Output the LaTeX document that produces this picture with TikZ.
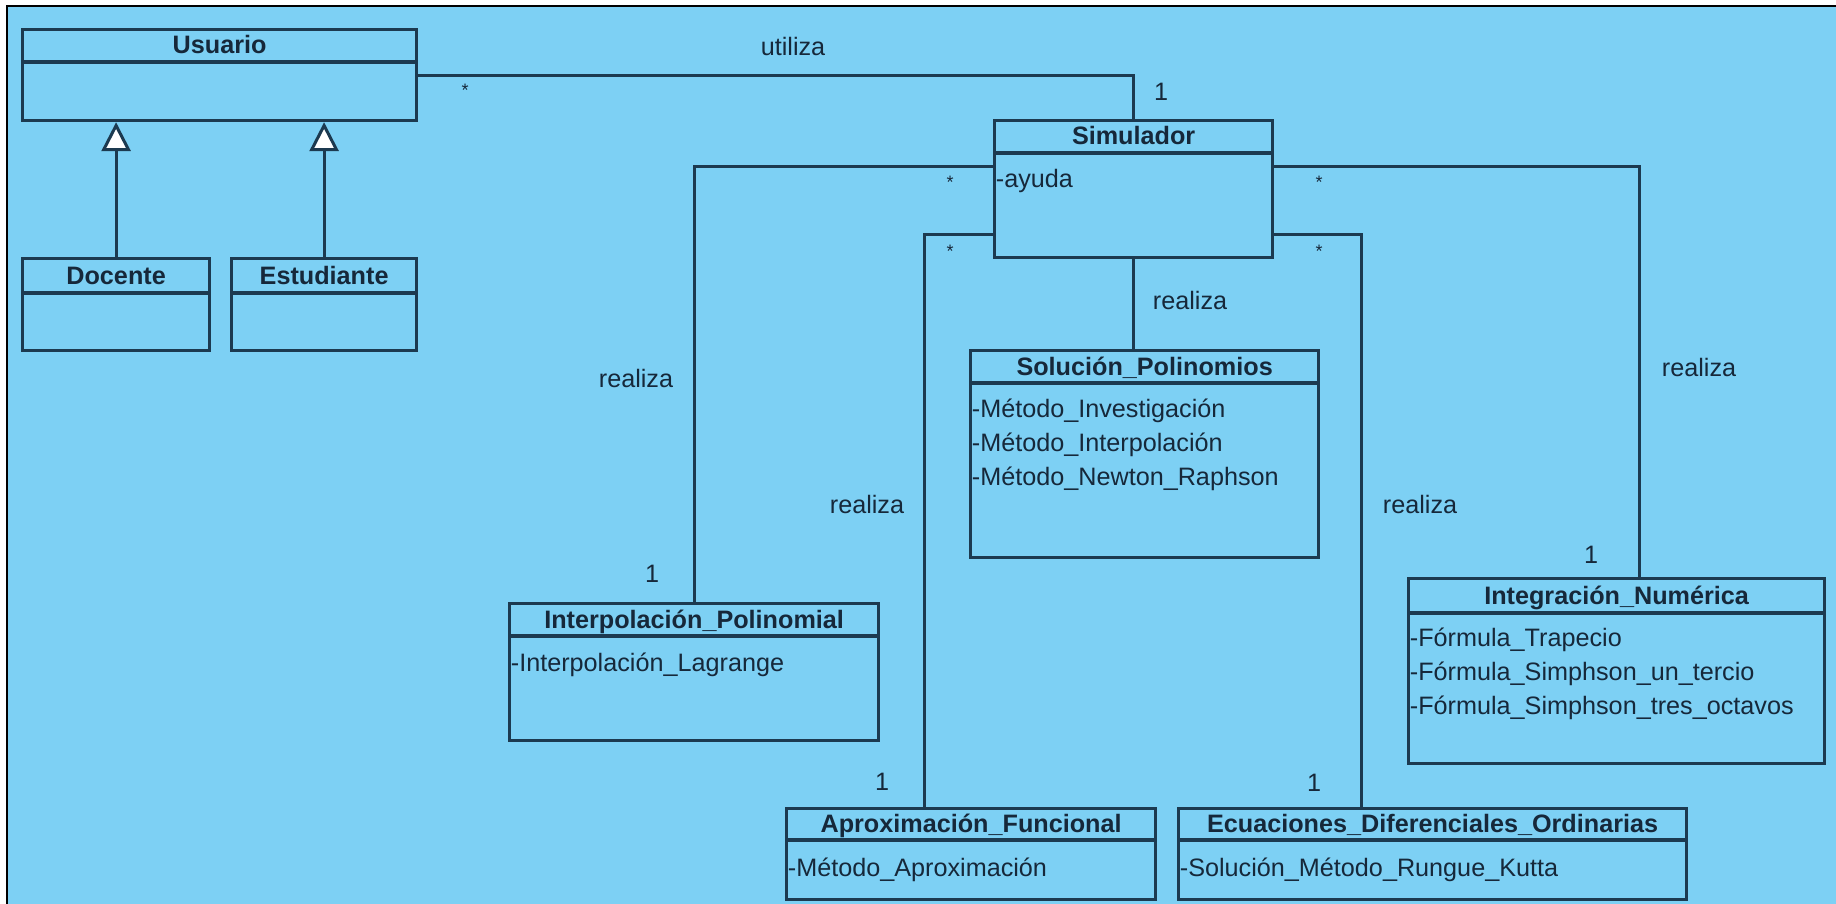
\documentclass[tikz,border=0pt]{standalone}
\usepackage{fontspec}
\setmainfont{Liberation Sans}
\usetikzlibrary{arrows.meta}

\definecolor{fondo}{RGB}{125,208,244}
\definecolor{linea}{RGB}{28,58,80}
\definecolor{texto}{RGB}{22,40,58}

\tikzset{
  clase/.style={draw=linea, line width=1.6pt, inner sep=0pt, anchor=north west},
  divisor/.style={draw=linea, line width=1.6pt},
  titulo/.style={anchor=base, inner sep=0.75pt, text=texto, font=\fontsize{12.6}{15}\selectfont\bfseries},
  atributo/.style={anchor=base west, inner sep=0.75pt, text=texto, font=\fontsize{12.6}{15}\selectfont},
  etiqueta/.style={anchor=base, inner sep=0.75pt, text=texto, font=\fontsize{12.6}{15}\selectfont},
  multiplicidad/.style={anchor=base, inner sep=0.75pt, text=texto, font=\fontsize{9}{10}\selectfont},
  asociacion/.style={draw=linea, line width=1.5pt},
  herencia/.style={asociacion, -{Triangle[fill=white, length=14.5pt, width=14.5pt]}}
}

\begin{document}
\begin{tikzpicture}[x=0.5pt,y=0.5pt,yscale=-1,xscale=1]
\useasboundingbox (0,0) rectangle (1836,904);

%Background and frame
\fill[white] (0,0) rectangle (1836,904);
\fill[fondo] (8,7) rectangle (1836,904);
\draw[black, line width=1.2pt] (7,904) -- (7,6) -- (1836,6);

% (yshift runs downwards here, since yscale=-1)

%Shape: Usuario
\node[clase, minimum width=197pt, minimum height=45.5pt] (usuario) at (21,28) {};
\draw[divisor] ([yshift=17pt]usuario.north west) -- ([yshift=17pt]usuario.north east);
\node[titulo] (usuario-t) at ([yshift=13pt]usuario.north) {Usuario};

%Shape: Docente
\node[clase, minimum width=93.5pt, minimum height=46pt] (docente) at (21,257) {};
\draw[divisor] ([yshift=18pt]docente.north west) -- ([yshift=18pt]docente.north east);
\node[titulo] (docente-t) at ([yshift=13.5pt]docente.north) {Docente};

%Shape: Estudiante
\node[clase, minimum width=92.5pt, minimum height=46pt] (estudiante) at (230,257) {};
\draw[divisor] ([yshift=18pt]estudiante.north west) -- ([yshift=18pt]estudiante.north east);
\node[titulo] (estudiante-t) at ([yshift=13.5pt]estudiante.north) {Estudiante};

%Shape: Simulador
\node[clase, minimum width=139pt, minimum height=68.5pt] (simulador) at (993,119) {};
\draw[divisor] ([yshift=17pt]simulador.north west) -- ([yshift=17pt]simulador.north east);
\node[titulo] (simulador-t) at ([yshift=13pt]simulador.north) {Simulador};
\node[atributo] (simulador-a1) at ([xshift=0.5pt,yshift=34pt]simulador.north west) {-ayuda};

%Shape: Solucion_Polinomios
\node[clase, minimum width=174pt, minimum height=103.5pt] (solucion) at (969,349) {};
\draw[divisor] ([yshift=17pt]solucion.north west) -- ([yshift=17pt]solucion.north east);
\node[titulo] (solucion-t) at ([yshift=13pt]solucion.north) {Solución\_Polinomios};
\node[atributo] (solucion-a1) at ([xshift=0.5pt,yshift=34pt]solucion.north west) {-Método\_Investigación};
\node[atributo] (solucion-a2) at ([xshift=0.5pt,yshift=51pt]solucion.north west) {-Método\_Interpolación};
\node[atributo] (solucion-a3) at ([xshift=0.5pt,yshift=68pt]solucion.north west) {-Método\_Newton\_Raphson};

%Shape: Interpolacion_Polinomial
\node[clase, minimum width=184.5pt, minimum height=68.5pt] (interpolacion) at (508,602) {};
\draw[divisor] ([yshift=17pt]interpolacion.north west) -- ([yshift=17pt]interpolacion.north east);
\node[titulo] (interpolacion-t) at ([yshift=13pt]interpolacion.north) {Interpolación\_Polinomial};
\node[atributo] (interpolacion-a1) at ([xshift=0.5pt,yshift=34.5pt]interpolacion.north west) {-Interpolación\_Lagrange};

%Shape: Integracion_Numerica
\node[clase, minimum width=208pt, minimum height=92.5pt] (integracion) at (1407,577) {};
\draw[divisor] ([yshift=18pt]integracion.north west) -- ([yshift=18pt]integracion.north east);
\node[titulo] (integracion-t) at ([yshift=13.5pt]integracion.north) {Integración\_Numérica};
\node[atributo] (integracion-a1) at ([xshift=0.5pt,yshift=34.5pt]integracion.north west) {-Fórmula\_Trapecio};
\node[atributo] (integracion-a2) at ([xshift=0.5pt,yshift=51.5pt]integracion.north west) {-Fórmula\_Simphson\_un\_tercio};
\node[atributo] (integracion-a3) at ([xshift=0.5pt,yshift=68.5pt]integracion.north west) {-Fórmula\_Simphson\_tres\_octavos};

%Shape: Aproximacion_Funcional
\node[clase, minimum width=184.5pt, minimum height=45.5pt] (aproximacion) at (785,807) {};
\draw[divisor] ([yshift=16.5pt]aproximacion.north west) -- ([yshift=16.5pt]aproximacion.north east);
\node[titulo] (aproximacion-t) at ([yshift=12.5pt]aproximacion.north) {Aproximación\_Funcional};
\node[atributo] (aproximacion-a1) at ([xshift=0.5pt,yshift=34.5pt]aproximacion.north west) {-Método\_Aproximación};

%Shape: Ecuaciones_Diferenciales_Ordinarias
\node[clase, minimum width=254pt, minimum height=45.5pt] (ecuaciones) at (1177,807) {};
\draw[divisor] ([yshift=16.5pt]ecuaciones.north west) -- ([yshift=16.5pt]ecuaciones.north east);
\node[titulo] (ecuaciones-t) at ([yshift=12.5pt]ecuaciones.north) {Ecuaciones\_Diferenciales\_Ordinarias};
\node[atributo] (ecuaciones-a1) at ([xshift=0.5pt,yshift=34.5pt]ecuaciones.north west) {-Solución\_Método\_Rungue\_Kutta};

%Generalization
\draw[herencia] (docente.north) -- (docente.north |- usuario.south);
\draw[herencia] (estudiante.north) -- (estudiante.north |- usuario.south);

%Associations
\draw[asociacion] (usuario.east) -| (simulador.north);
\draw[asociacion] ([yshift=23.5pt]simulador.north west) -| (interpolacion.north);
\draw[asociacion] ([yshift=57.5pt]simulador.north west) -| ([xshift=69.5pt]aproximacion.north west);
\draw[asociacion] (simulador.south) -- (simulador.south |- solucion.north);
\draw[asociacion] ([yshift=23.5pt]simulador.north east) -| ([xshift=116pt]integracion.north west);
\draw[asociacion] ([yshift=57.5pt]simulador.north east) -| ([xshift=92pt]ecuaciones.north west);

% Text Node
\node[etiqueta] (utiliza) at (793,56) {utiliza};
\node[etiqueta] (realiza-int) at (636,387) {realiza};
\node[etiqueta] (realiza-apr) at (867,513) {realiza};
\node[etiqueta] (realiza-sol) at (1190,309) {realiza};
\node[etiqueta] (realiza-ecu) at (1420,513) {realiza};
\node[etiqueta] (realiza-itg) at (1699,376) {realiza};

% Multiplicities
\node[multiplicidad] (m-usuario) at (465,97) {*};
\node[etiqueta] (m-simulador) at (1161,101) {1};
\node[multiplicidad] (m-sim-int) at (950,188) {*};
\node[multiplicidad] (m-sim-apr) at (950,257) {*};
\node[multiplicidad] (m-sim-itg) at (1319,188) {*};
\node[multiplicidad] (m-sim-ecu) at (1319,257) {*};
\node[etiqueta] (m-int) at (652,582) {1};
\node[etiqueta] (m-apr) at (882,790) {1};
\node[etiqueta] (m-ecu) at (1314,791) {1};
\node[etiqueta] (m-itg) at (1591,563) {1};

\end{tikzpicture}
\end{document}
